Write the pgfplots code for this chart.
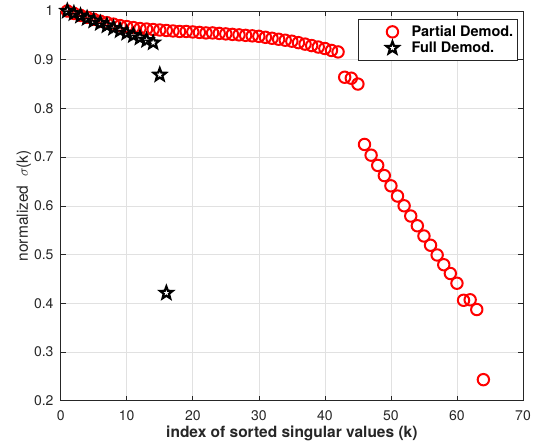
\documentclass[border=0pt]{standalone}
\usepackage{pgfplots}
\pgfplotsset{compat=1.18}
\usepackage{fontspec}
\setmainfont{TeX Gyre Heros}
\definecolor{axgray}{RGB}{38,38,38}
\definecolor{gridgray}{RGB}{225,225,225}
\pgfdeclareplotmark{pentagram}{%
  \pgfpathmoveto{\pgfpointpolar{90}{\pgfplotmarksize}}%
  \pgfpathlineto{\pgfpointpolar{126}{0.42\pgfplotmarksize}}%
  \pgfpathlineto{\pgfpointpolar{162}{\pgfplotmarksize}}%
  \pgfpathlineto{\pgfpointpolar{198}{0.42\pgfplotmarksize}}%
  \pgfpathlineto{\pgfpointpolar{234}{\pgfplotmarksize}}%
  \pgfpathlineto{\pgfpointpolar{270}{0.42\pgfplotmarksize}}%
  \pgfpathlineto{\pgfpointpolar{306}{\pgfplotmarksize}}%
  \pgfpathlineto{\pgfpointpolar{342}{0.42\pgfplotmarksize}}%
  \pgfpathlineto{\pgfpointpolar{18}{\pgfplotmarksize}}%
  \pgfpathlineto{\pgfpointpolar{54}{0.42\pgfplotmarksize}}%
  \pgfpathclose
  \pgfusepathqstroke}
\begin{document}
\begin{tikzpicture}
\begin{axis}[
  name=ax,
  scale only axis,
  width=462.3bp, height=389.6bp,
  xmin=0, xmax=70, ymin=0.2, ymax=1,
  xtick={0,10,20,30,40,50,60,70},
  ytick={0.2,0.3,0.4,0.5,0.6,0.7,0.8,0.9,1},
  /pgf/number format/assume math mode=true,
  tick align=inside,
  major tick length=5bp,
  tick style={axgray, line width=0.6bp},
  axis line style={axgray, line width=0.8bp},
  grid=major,
  major grid style={gridgray, line width=0.6bp},
  ticklabel style={font=\fontsize{14bp}{16bp}\selectfont, text=axgray},
  yticklabel style={inner sep=0pt, xshift=-7bp},
  xticklabel style={inner sep=0pt, yshift=-10bp},
  xlabel={\textbf{index of sorted singular values (k)}},
  ylabel={normalized\ \ $\sigma$(k)},
  label style={font=\fontsize{15.5bp}{18bp}\selectfont, text=axgray},
  xlabel style={at={(axis description cs:0.5,-0.0832)}, anchor=center},
  ylabel style={at={(axis description cs:-0.0794,0.5)}, anchor=center, rotate=0},
  clip=false,
  legend style={at={(axis description cs:0.9885,0.9787)}, anchor=north east,
    draw=axgray, line width=0.8bp, fill=white,
    font=\fontsize{14.5bp}{17bp}\selectfont\bfseries,
    inner xsep=2bp, inner ysep=4bp, row sep=0bp},
  legend cell align=left,
  legend image code/.code={\path (-31bp,0bp) (16bp,0bp); \draw[#1] plot coordinates {(0bp,0bp)};},
]
\addplot[only marks, mark=o, mark size=5.7bp, draw=red, line width=2bp, mark options={draw=red, fill=none}] coordinates {
(1,1.000) (2,0.995) (3,0.991) (4,0.987) (5,0.983) (6,0.979) (7,0.976) (8,0.973)
(9,0.970) (10,0.968) (11,0.966) (12,0.964) (13,0.963) (14,0.962) (15,0.961) (16,0.960)
(17,0.959) (18,0.958) (19,0.958) (20,0.957) (21,0.956) (22,0.955) (23,0.955) (24,0.954)
(25,0.953) (26,0.952) (27,0.951) (28,0.950) (29,0.949) (30,0.948) (31,0.946) (32,0.944)
(33,0.942) (34,0.940) (35,0.938) (36,0.935) (37,0.932) (38,0.929) (39,0.926) (40,0.923)
(41,0.919) (42,0.916) (43,0.864) (44,0.862) (45,0.850) (46,0.726) (47,0.704) (48,0.683)
(49,0.662) (50,0.641) (51,0.620) (52,0.600) (53,0.579) (54,0.559) (55,0.538) (56,0.519)
(57,0.499) (58,0.479) (59,0.461) (60,0.441) (61,0.406) (62,0.407) (63,0.387) (64,0.243)
};
\addlegendentry{Partial Demod.}
\addplot[only marks, mark=pentagram, mark size=6.5bp, draw=black, line width=2.2bp, mark options={draw=black, fill=none}] coordinates {
(1,1.000) (2,0.995) (3,0.990) (4,0.985) (5,0.980) (6,0.975) (7,0.970) (8,0.965)
(9,0.960) (10,0.955) (11,0.950) (12,0.945) (13,0.940) (14,0.935) (15,0.869) (16,0.421)
};
\addlegendentry{Full Demod.}
\end{axis}
\pgfresetboundingbox
\path[use as bounding box] (ax.south west) ++(-60.7bp,-44.4bp) rectangle ++(540bp,445bp);
\end{tikzpicture}
\end{document}
